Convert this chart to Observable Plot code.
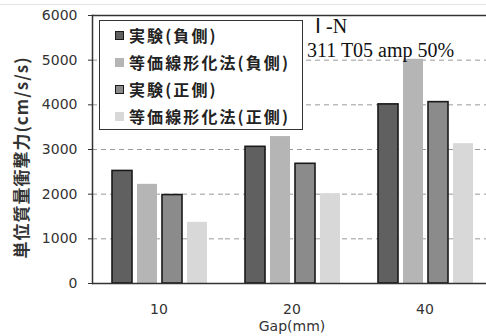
<!DOCTYPE html>
<html><head><meta charset="utf-8">
<script src="https://cdn.jsdelivr.net/npm/d3@7"></script>
<script src="https://cdn.jsdelivr.net/npm/@observablehq/plot@0.6"></script>
<style>
body{margin:0;background:#fff;}
#wrap{position:relative;width:486px;height:336px;overflow:hidden;background:#fff;}
#topline{position:absolute;left:0;top:4px;width:486px;height:1px;background:#e2e2e2;}
#legend{position:absolute;left:99px;top:20px;width:202px;height:108px;border:1.5px solid #333;background:#fff;font-family:"Noto Sans CJK JP";font-weight:bold;font-size:16px;letter-spacing:2.1px;color:#222;}
.item{position:absolute;left:15px;display:flex;align-items:center;height:20px;white-space:nowrap;}
.sw{width:9px;height:9px;margin-right:5px;box-sizing:border-box;}
.note{position:absolute;font-family:"Liberation Serif";font-size:20px;color:#111;white-space:nowrap;line-height:20px;}
</style>
</head><body>
<div id="wrap"><div id="topline"></div></div>
<script>
const gaps = ["10", "20", "40"];
const series = ["実験(負側)", "等価線形化法(負側)", "実験(正側)", "等価線形化法(正側)"];
const negExp = [2520, 3060, 4010];
const negEq = [2220, 3290, 5020];
const posExp = [1980, 2680, 4060];
const posEq = [1370, 2010, 3130];
const yTicks = [0, 1000, 2000, 3000, 4000, 5000, 6000];
const gridTicks = [1000, 2000, 3000, 4000, 5000];
const colors = ["#606060", "#b5b5b5", "#8b8b8b", "#d8d8d8"];
const outlined = [true, false, true, false];
const yLabel = "単位質量衝撃力(cm/s/s)";
const xLabel = "Gap(mm)";
const noteLines = ["Ⅰ -N", "311 T05 amp 50%"];

const valuesBySeries = [negExp, negEq, posExp, posEq];
const data = [];
gaps.forEach((g, i) => series.forEach((s, j) => data.push({gap: g, series: s, value: valuesBySeries[j][i], outlined: outlined[j]})));

const chart = Plot.plot({
  width: 486, height: 336,
  marginLeft: 92, marginRight: 0, marginTop: 15, marginBottom: 53,
  style: {fontFamily: "DejaVu Sans", fontSize: "14px", color: "#333", background: "transparent"},
  fx: {domain: gaps, range: [92, 491], padding: 0},
  x: {domain: series, range: [112, 207], paddingInner: 0.22, paddingOuter: 0, axis: null},
  y: {domain: [0, 6000], range: [283, 15]},
  color: {domain: series, range: colors},
  marks: [
    Plot.ruleY(gridTicks, {stroke: "#9a9a9a", strokeWidth: 1, strokeDasharray: "5,4"}),
    Plot.barY(data, {fx: "gap", x: "series", y: "value", fill: "series"}),
    Plot.barY(data.filter(d => d.outlined), {fx: "gap", x: "series", y: "value", fill: "none", stroke: "#1a1a1a", strokeWidth: 1.6}),
    Plot.ruleY([0], {stroke: "#333", strokeWidth: 1.5}),
    Plot.ruleY([6000], {stroke: "#333", strokeWidth: 1.5}),
    Plot.frame({anchor: "left", facetAnchor: "left", stroke: "#333", strokeWidth: 1.5}),
    Plot.axisY({ticks: yTicks, tickSize: 4, tickPadding: 11, tickFormat: d => String(d), label: null, fontSize: 14, facetAnchor: "left", stroke: "#333"}),
    Plot.text([yLabel], {facet: "super", frameAnchor: "left", textAnchor: "middle", rotate: -90, dx: -70, dy: 8, fontSize: 17, fontWeight: "bold", fontFamily: "Noto Sans CJK JP", fill: "#333"}),
    Plot.axisFx({anchor: "bottom", tickSize: 0, tickPadding: 21, fontSize: 14, label: xLabel, labelAnchor: "center", labelOffset: 47})
  ]
});
chart.querySelectorAll("text").forEach(t => { if (t.textContent === yLabel) t.style.letterSpacing = "1px"; });
const wrap = document.getElementById("wrap");
chart.style.position = "absolute"; chart.style.left = "0"; chart.style.top = "0";
wrap.appendChild(chart);

const legend = document.createElement("div");
legend.id = "legend";
series.forEach((s, j) => {
  const it = document.createElement("div");
  it.className = "item";
  it.style.top = (4 + 27 * j) + "px";
  const sw = document.createElement("span");
  sw.className = "sw";
  sw.style.background = colors[j];
  if (outlined[j]) sw.style.border = "1.5px solid #1a1a1a";
  it.appendChild(sw);
  const t = document.createElement("span");
  t.textContent = s;
  it.appendChild(t);
  legend.appendChild(it);
});
wrap.appendChild(legend);

const notePos = [[315, 16], [307, 40]];
noteLines.forEach((l, i) => {
  const n = document.createElement("div");
  n.className = "note";
  n.style.left = notePos[i][0] + "px";
  n.style.top = notePos[i][1] + "px";
  n.textContent = l;
  wrap.appendChild(n);
});
</script>
</body></html>
